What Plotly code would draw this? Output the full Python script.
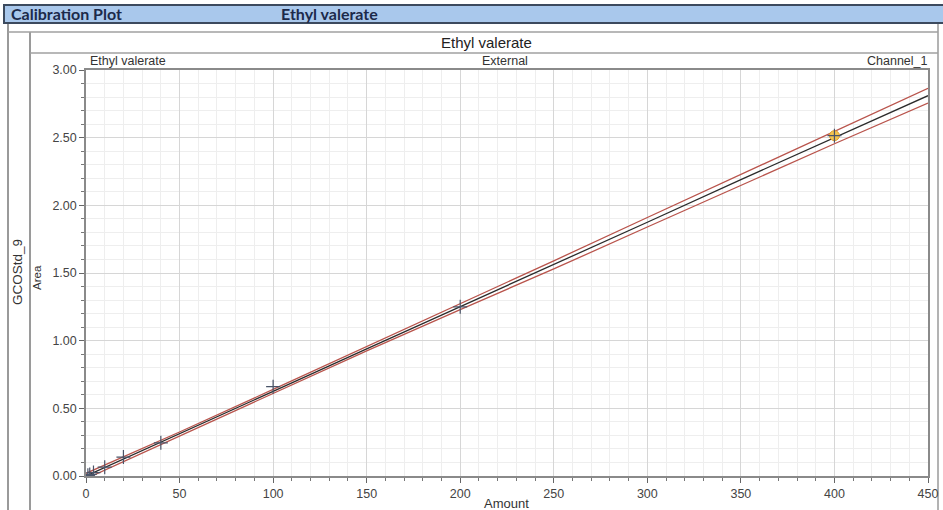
import plotly.graph_objects as go

# ---- data ----
amount = [1, 2, 4, 10, 20, 40, 100, 200, 400]
area = [0.005, 0.012, 0.025, 0.065, 0.14, 0.245, 0.66, 1.25, 2.515]
highlight_amount = [400]
highlight_area = [2.515]

line_x = [0, 50, 100, 150, 200, 250, 300, 350, 400, 450]
fit_y = [0.0, 0.31, 0.625, 0.94, 1.25, 1.56, 1.875, 2.19, 2.50, 2.81]
upper_y = [0.02, 0.325, 0.64, 0.955, 1.27, 1.59, 1.91, 2.23, 2.545, 2.865]
lower_y = [-0.02, 0.295, 0.61, 0.925, 1.23, 1.53, 1.84, 2.15, 2.455, 2.755]

header_left = "Calibration Plot"
header_compound = "Ethyl valerate"
plot_title = "Ethyl valerate"
corner_left = "Ethyl valerate"
corner_mid = "External"
corner_right = "Channel_1"
x_title = "Amount"
y_title = "Area"
side_label = "GCOStd_9"

W, H = 943, 510
L, R, T, B = 86, 15, 70, 34
PW, PH = W - L - R, H - T - B


def px(x):
    return (x - L) / PW


def py(y):
    return (H - B - y) / PH


fig = go.Figure()

fig.add_trace(go.Scatter(x=line_x, y=upper_y, mode="lines",
                         line=dict(color="#b9544c", width=1.3), hoverinfo="skip"))
fig.add_trace(go.Scatter(x=line_x, y=lower_y, mode="lines",
                         line=dict(color="#b9544c", width=1.3), hoverinfo="skip"))
fig.add_trace(go.Scatter(x=line_x, y=fit_y, mode="lines",
                         line=dict(color="#2b2b2b", width=1.3), hoverinfo="skip"))
fig.add_trace(go.Scatter(x=highlight_amount, y=highlight_area, mode="markers",
                         marker=dict(symbol="circle", size=10, color="#f3c44f",
                                     line=dict(color="#e0a030", width=1))))
fig.add_trace(go.Scatter(x=amount, y=area, mode="markers",
                         marker=dict(symbol="cross-thin", size=10,
                                     line=dict(color="#4a5468", width=1.2))))

axis_common = dict(
    showline=True, mirror=True, linecolor="#8a8a8a", linewidth=1.5,
    ticks="outside", ticklen=5, tickcolor="#666", tickwidth=1,
    showgrid=True, gridcolor="#d6d6d6", gridwidth=1,
    zeroline=False, automargin=False,
    tickfont=dict(family="Liberation Sans, Arial, sans-serif", size=12.5, color="#444"),
)

fig.update_xaxes(range=[0, 450], tickvals=[0, 50, 100, 150, 200, 250, 300, 350, 400, 450],
                 minor=dict(dtick=10, ticks="outside", ticklen=3, tickcolor="#777",
                            showgrid=True, gridcolor="#eeeeee"),
                 **axis_common)
fig.update_yaxes(range=[0, 3], tickvals=[0, 0.5, 1, 1.5, 2, 2.5, 3], tickformat=".2f",
                 minor=dict(dtick=0.1, ticks="outside", ticklen=3, tickcolor="#777",
                            showgrid=True, gridcolor="#eeeeee"),
                 **axis_common)

shapes = []
# header band
shapes.append(dict(type="rect", xref="paper", yref="paper",
                   x0=px(4), x1=px(945), y0=py(23), y1=py(5),
                   fillcolor="#a9c8ec", line=dict(color="#3c4a5e", width=2), layer="below"))
# panel frame lines
for (x0, y0, x1, y1, c, w) in [
    (8, 24, 8, 510, "#9a9a9a", 2),
    (30, 32, 30, 510, "#9a9a9a", 2),
    (938, 24, 938, 510, "#9a9a9a", 1.5),
    (8, 32, 938, 32, "#a0a0a0", 1.5),
    (30, 53, 938, 53, "#a0a0a0", 1.5),
]:
    shapes.append(dict(type="line", xref="paper", yref="paper",
                       x0=px(x0), x1=px(x1), y0=py(y0), y1=py(y1),
                       line=dict(color=c, width=w), layer="below"))

fig.update_layout(shapes=shapes)

ann_font = "Liberation Sans, Arial, sans-serif"
annotations = [
    dict(text=f"<b>{header_left}</b>", x=px(9), y=py(14), xanchor="left", yanchor="middle",
         font=dict(family="Lato, Open Sans, sans-serif", size=16, color="#1c2a4a")),
    dict(text=f"<b>{header_compound}</b>", x=px(279), y=py(14), xanchor="left", yanchor="middle",
         font=dict(family="Lato, Open Sans, sans-serif", size=16, color="#1c2a4a")),
    dict(text=plot_title, x=px(486), y=py(43), xanchor="center", yanchor="middle",
         font=dict(family=ann_font, size=15, color="#222")),
    dict(text=corner_left, x=px(88), y=py(61), xanchor="left", yanchor="middle",
         font=dict(family=ann_font, size=12.5, color="#333")),
    dict(text=corner_mid, x=px(505), y=py(61), xanchor="center", yanchor="middle",
         font=dict(family=ann_font, size=12.5, color="#333")),
    dict(text=corner_right, x=px(930), y=py(61), xanchor="right", yanchor="middle",
         font=dict(family=ann_font, size=12.5, color="#333")),
    dict(text=x_title, x=px(506), y=py(503), xanchor="center", yanchor="middle",
         font=dict(family=ann_font, size=13, color="#333")),
    dict(text=y_title, x=px(37), y=py(278), xanchor="center", yanchor="middle", textangle=-90,
         font=dict(family=ann_font, size=11.5, color="#333")),
    dict(text=side_label, x=px(17), y=py(272), xanchor="center", yanchor="middle", textangle=-90,
         font=dict(family=ann_font, size=13.5, color="#333")),
]
for a in annotations:
    a.update(xref="paper", yref="paper", showarrow=False)
fig.update_layout(annotations=annotations)

fig.update_layout(
    width=W, height=H,
    margin=dict(l=L, r=R, t=T, b=B, autoexpand=False),
    paper_bgcolor="white", plot_bgcolor="white",
    showlegend=False,
)

fig.write_html("out.html",
               config={"displayModeBar": False},
               post_script="document.body.style.margin='0';document.body.style.overflow='hidden';")
